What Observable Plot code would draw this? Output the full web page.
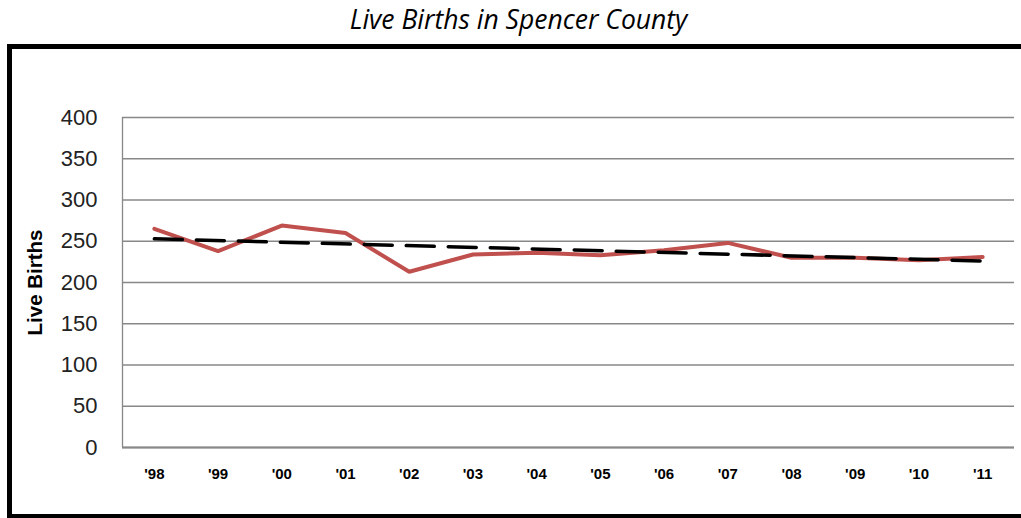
<!DOCTYPE html>
<html>
<head>
<meta charset="utf-8">
<script src="https://cdn.jsdelivr.net/npm/d3@7"></script>
<script src="https://cdn.jsdelivr.net/npm/@observablehq/plot@0.6"></script>
<style>
  html, body { margin: 0; padding: 0; background: #fff; width: 1021px; height: 518px; overflow: hidden; }
  #title { position: absolute; left: 0; top: 1px; width: 1037px; text-align: center;
           font-family: "Open Sans", sans-serif; font-style: italic; font-size: 26.5px; color: #000; }
  #frame { position: absolute; left: 7px; top: 44px; width: 1030px; height: 465px;
           border-top: 5px solid #000; border-left: 5px solid #000; border-bottom: 5px solid #000; pointer-events: none; }
  #chart { position: absolute; left: 0; top: 44px; }
</style>
</head>
<body>
<div id="title">Live Births in Spencer County</div>
<div id="chart"></div>
<div id="frame"></div>
<script>
const years = ["'98","'99","'00","'01","'02","'03","'04","'05","'06","'07","'08","'09","'10","'11"];
const births = [265, 238, 269, 260, 213, 234, 236, 233, 239, 248, 230, 230, 227, 231];
const yTicks = [0, 50, 100, 150, 200, 250, 300, 350, 400];

const data = years.map((y, i) => ({i, year: y, births: births[i]}));

const chart = Plot.plot({
  width: 1021,
  height: 474,
  marginTop: 73,
  marginBottom: 71,
  marginLeft: 122,
  marginRight: 7,
  style: {fontFamily: "'Liberation Sans', Arial, sans-serif", color: "#222", background: "#fff"},
  x: {domain: [-0.5, years.length - 0.5]},
  y: {domain: [0, 400]},
  marks: [
    Plot.gridY(yTicks, {stroke: "#888", strokeOpacity: 1, strokeWidth: 1.3}),
    Plot.ruleX([-0.5], {stroke: "#888", strokeWidth: 1.3}),
    Plot.ruleY([0], {stroke: "#888", strokeWidth: 2}),
    Plot.axisY(yTicks, {tickSize: 0, tickPadding: 25, fontSize: 22, label: null}),
    Plot.text(["Live Births"], {frameAnchor: "left", textAnchor: "middle", dx: -87, rotate: -90, fontSize: 20.5, fontWeight: "bold", fill: "#000"}),
    Plot.axisX(d3.range(years.length), {tickSize: 0, tickPadding: 21, fontSize: 15, fontWeight: "bold", fill: "#000",
      tickFormat: (d) => years[d], label: null}),
    Plot.line(data, {x: "i", y: "births", stroke: "#C0504D", strokeWidth: 4, strokeLinejoin: "miter"}),
    Plot.linearRegressionY(data, {x: "i", y: "births", ci: 0, stroke: "#000", strokeWidth: 3.5, strokeDasharray: "28,14"})
  ]
});
document.getElementById("chart").appendChild(chart);
</script>
</body>
</html>
